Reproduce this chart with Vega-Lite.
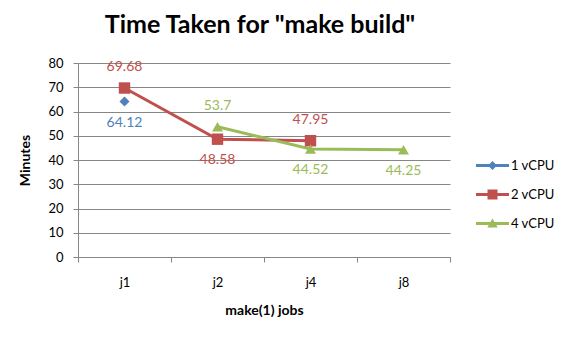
{
  "$schema": "https://vega.github.io/schema/vega-lite/v6.json",
  "width": 372,
  "height": 194,
  "autosize": {"type": "none"},
  "padding": {"left": 78, "top": 63, "right": 118, "bottom": 82},
  "background": "white",
  "config": {
    "view": {"stroke": null},
    "font": "Lato"
  },
  "title": {
    "text": "Time Taken for \"make build\"",
    "font": "Lato",
    "fontSize": 25,
    "fontWeight": "bold",
    "color": "black",
    "anchor": "middle",
    "dx": -4,
    "offset": 19
  },
  "data": {
    "values": [
      {"job": "j1", "series": "1 vCPU", "minutes": 64.12},
      {"job": "j1", "series": "2 vCPU", "minutes": 69.68},
      {"job": "j2", "series": "2 vCPU", "minutes": 48.58},
      {"job": "j4", "series": "2 vCPU", "minutes": 47.95},
      {"job": "j2", "series": "4 vCPU", "minutes": 53.7},
      {"job": "j4", "series": "4 vCPU", "minutes": 44.52},
      {"job": "j8", "series": "4 vCPU", "minutes": 44.25}
    ]
  },
  "encoding": {
    "x": {
      "field": "job",
      "type": "nominal",
      "sort": ["j1", "j2", "j4", "j8"],
      "scale": {"type": "band", "paddingInner": 0, "paddingOuter": 0},
      "axis": {
        "title": "make(1) jobs",
        "titleFont": "Lato",
        "titleFontSize": 14,
        "titleFontWeight": "bold",
        "titleColor": "black",
        "titlePadding": 14,
        "labelFont": "Lato",
        "labelFontSize": 13,
        "labelColor": "black",
        "labelAngle": 0,
        "labelPadding": 14,
        "tickBand": "extent",
        "tickSize": 5,
        "tickColor": "#868686",
        "domainColor": "#868686",
        "grid": false
      }
    },
    "y": {
      "field": "minutes",
      "type": "quantitative",
      "scale": {"domain": [0, 80], "nice": false},
      "axis": {
        "title": "Minutes",
        "titleFont": "Lato",
        "titleFontSize": 14,
        "titleFontWeight": "bold",
        "titleColor": "black",
        "titlePadding": 15,
        "labelFont": "Lato",
        "labelFontSize": 13,
        "labelColor": "black",
        "labelPadding": 10,
        "values": [0, 10, 20, 30, 40, 50, 60, 70, 80],
        "tickSize": 5,
        "tickColor": "#868686",
        "domainColor": "#868686",
        "gridColor": "#868686",
        "gridOpacity": 1
      }
    },
    "color": {
      "field": "series",
      "type": "nominal",
      "scale": {
        "domain": ["1 vCPU", "2 vCPU", "4 vCPU"],
        "range": ["#4F81BD", "#C0504D", "#9BBB59"]
      },
      "legend": {
        "orient": "none",
        "legendX": 408,
        "legendY": 96,
        "title": null,
        "padding": 0,
        "labelFont": "Lato",
        "labelFontSize": 13,
        "labelColor": "black",
        "labelOffset": 12,
        "rowPadding": 15,
        "symbolSize": 100,
        "encode": {
          "symbols": {
            "update": {
              "shape": {"signal": "datum.value === '1 vCPU' ? 'M-3.3,-0.3H3.3V0.3H-3.3Z M0,-0.9L0.9,0L0,0.9L-0.9,0Z' : datum.value === '2 vCPU' ? 'M-3.3,-0.3H3.3V0.3H-3.3Z M-1,-1H1V1H-1Z' : 'M-3.3,-0.3H3.3V0.3H-3.3Z M0,-1L1.05,0.8H-1.05Z'"},
              "fill": {"scale": "color", "field": "value"},
              "stroke": {"value": "transparent"},
              "strokeWidth": {"value": 0},
              "opacity": {"value": 1}
            }
          }
        }
      }
    }
  },
  "layer": [
    {
      "mark": {"type": "line", "strokeWidth": 3}
    },
    {
      "transform": [{"filter": "datum.series === '1 vCPU'"}],
      "mark": {"type": "point", "filled": true, "opacity": 1, "size": 100, "shape": "diamond"}
    },
    {
      "transform": [{"filter": "datum.series === '2 vCPU'"}],
      "mark": {"type": "point", "filled": true, "opacity": 1, "size": 130, "shape": "square"}
    },
    {
      "transform": [{"filter": "datum.series === '4 vCPU'"}],
      "mark": {"type": "point", "filled": true, "opacity": 1, "size": 120, "shape": "triangle-up"}
    },
    {
      "transform": [
        {"filter": "(datum.series === '2 vCPU' && (datum.job === 'j1' || datum.job === 'j4')) || (datum.series === '4 vCPU' && datum.job === 'j2')"}
      ],
      "mark": {"type": "text", "font": "Lato", "fontSize": 14, "dy": -21},
      "encoding": {"text": {"field": "minutes", "type": "quantitative"}}
    },
    {
      "transform": [
        {"filter": "!((datum.series === '2 vCPU' && (datum.job === 'j1' || datum.job === 'j4')) || (datum.series === '4 vCPU' && datum.job === 'j2'))"}
      ],
      "mark": {"type": "text", "font": "Lato", "fontSize": 14, "dy": 21},
      "encoding": {"text": {"field": "minutes", "type": "quantitative"}}
    }
  ]
}
